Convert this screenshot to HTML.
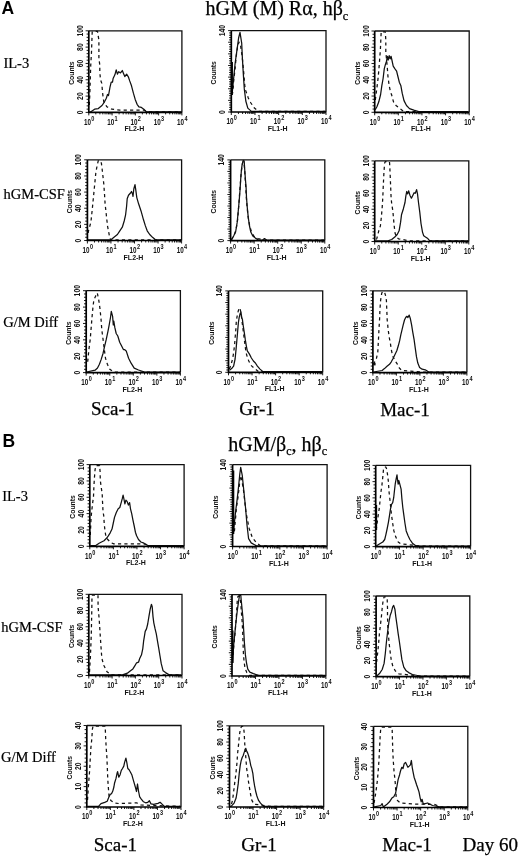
<!DOCTYPE html>
<html><head><meta charset="utf-8"><title>Figure</title><style>
html,body{margin:0;padding:0;background:#fff;}
body{width:520px;height:858px;overflow:hidden;}
svg{display:block;will-change:transform;}
.dash{fill:none;stroke:#111;stroke-width:1.25;stroke-dasharray:3.2 3.2;stroke-linejoin:round;}
.sol{fill:none;stroke:#111;stroke-width:1.25;stroke-linejoin:round;}
.box{fill:none;stroke:#111;stroke-width:1.3;}
.axis{fill:none;stroke:#000;stroke-width:1.7;}
.tick{fill:none;stroke:#000;stroke-width:0.9;}
.yl{font-family:"Liberation Sans", sans-serif;font-size:8.5px;font-weight:bold;text-anchor:middle;fill:#111;}
.cnt{font-family:"Liberation Sans", sans-serif;font-size:6.8px;font-weight:bold;text-anchor:middle;fill:#111;}
.xl{font-family:"Liberation Sans", sans-serif;font-size:8.2px;font-weight:bold;fill:#111;}
.sup{font-family:"Liberation Sans", sans-serif;font-size:6.4px;font-weight:bold;fill:#111;}
.xt{font-family:"Liberation Sans", sans-serif;font-size:7px;font-weight:bold;text-anchor:middle;fill:#111;}
.lab{font-family:"Liberation Sans", sans-serif;font-size:17.5px;font-weight:bold;fill:#000;}
.ttl{font-family:"Liberation Serif", serif;font-size:20px;fill:#000;stroke:#000;stroke-width:0.25px;}
.sub{font-size:12px;}
.row{font-family:"Liberation Serif", serif;font-size:14.5px;fill:#000;stroke:#000;stroke-width:0.2px;}
.col{font-family:"Liberation Serif", serif;font-size:19px;fill:#000;stroke:#000;stroke-width:0.25px;}
</style></head>
<body><svg width="520" height="858" viewBox="0 0 520 858">
<rect width="520" height="858" fill="#fff"/>
<g><path d="M89.3 105 L89.8 95 L90.7 66 L91.5 52 L92.2 32 L92.8 31.4 L97.5 31.4 L97.7 33 L98.9 40 L98.9 58.8 L99.8 65 L99.8 72 L100.5 79.7 L101.8 83.4 L102.6 93.2 L103.8 101.8 L106.9 106.8 L111.8 109.2 L120 110.2 L143.8 110.2 L150 111.8 L181.5 111.8" class="dash"/><path d="M89.5 111.8 L90.9 111.8 L94.6 109.2 L98.3 108.6 L102 105.5 L104.5 101.8 L106.3 98.2 L107.5 94.5 L108.5 95.5 L110 87.1 L111.2 82.2 L112.5 82.2 L113.1 78.5 L114.9 74.8 L116.2 69.8 L117.4 74.2 L118.6 71.7 L120.5 72.9 L122.3 70.5 L123.5 73.5 L124.8 76.6 L126.6 74.2 L128.5 77.2 L129.7 80.9 L131.5 85.8 L133.4 93.2 L135.2 99.4 L137.1 104.3 L138.9 106.8 L141.4 107.4 L143.8 109.2 L146.3 111.8 L150 111.8 L160 111.8 L166 111.8 L181.5 111.8" class="sol"/><path d="M88.8 30.8 H181.9 V112.4" class="box"/><path d="M88.8 30.8 V112.4 H181.9" class="axis"/><path d="M88.8 112.4h-3.2M88.8 109.14h-2.2M88.8 105.87h-2.2M88.8 102.61h-2.2M88.8 99.34h-2.2M88.8 96.08h-3.2M88.8 92.82h-2.2M88.8 89.55h-2.2M88.8 86.29h-2.2M88.8 83.02h-2.2M88.8 79.76h-3.2M88.8 76.5h-2.2M88.8 73.23h-2.2M88.8 69.97h-2.2M88.8 66.7h-2.2M88.8 63.44h-3.2M88.8 60.18h-2.2M88.8 56.91h-2.2M88.8 53.65h-2.2M88.8 50.38h-2.2M88.8 47.12h-3.2M88.8 43.86h-2.2M88.8 40.59h-2.2M88.8 37.33h-2.2M88.8 34.06h-2.2M88.8 30.8h-3.2M88.8 112.4v3M95.81 112.4v2M99.9 112.4v2M102.81 112.4v2M105.07 112.4v2M106.91 112.4v2M108.47 112.4v2M109.82 112.4v2M111.01 112.4v2M112.08 112.4v3M119.08 112.4v2M123.18 112.4v2M126.09 112.4v2M128.34 112.4v2M130.19 112.4v2M131.74 112.4v2M133.09 112.4v2M134.28 112.4v2M135.35 112.4v3M142.36 112.4v2M146.45 112.4v2M149.36 112.4v2M151.62 112.4v2M153.46 112.4v2M155.02 112.4v2M156.37 112.4v2M157.56 112.4v2M158.62 112.4v3M165.63 112.4v2M169.73 112.4v2M172.64 112.4v2M174.89 112.4v2M176.74 112.4v2M178.29 112.4v2M179.64 112.4v2M180.83 112.4v2M181.9 112.4v3" class="tick"/><text transform="translate(82.6 112.4) rotate(-90)" class="yl" textLength="3.8" lengthAdjust="spacingAndGlyphs">0</text><text transform="translate(82.6 96.08) rotate(-90)" class="yl" textLength="7.6" lengthAdjust="spacingAndGlyphs">20</text><text transform="translate(82.6 79.76) rotate(-90)" class="yl" textLength="7.6" lengthAdjust="spacingAndGlyphs">40</text><text transform="translate(82.6 63.44) rotate(-90)" class="yl" textLength="7.6" lengthAdjust="spacingAndGlyphs">60</text><text transform="translate(82.6 47.12) rotate(-90)" class="yl" textLength="7.6" lengthAdjust="spacingAndGlyphs">80</text><text transform="translate(82.6 30.8) rotate(-90)" class="yl" textLength="11.4" lengthAdjust="spacingAndGlyphs">100</text><text transform="translate(73.8 73.1) rotate(-90)" class="cnt">Counts</text><text x="83.9" y="124.8" class="xl" textLength="7" lengthAdjust="spacingAndGlyphs">10</text><text x="91.3" y="120.6" class="sup" textLength="3.1" lengthAdjust="spacingAndGlyphs">0</text><text x="107.17" y="124.8" class="xl" textLength="7" lengthAdjust="spacingAndGlyphs">10</text><text x="114.58" y="120.6" class="sup" textLength="3.1" lengthAdjust="spacingAndGlyphs">1</text><text x="130.45" y="124.8" class="xl" textLength="7" lengthAdjust="spacingAndGlyphs">10</text><text x="137.85" y="120.6" class="sup" textLength="3.1" lengthAdjust="spacingAndGlyphs">2</text><text x="153.72" y="124.8" class="xl" textLength="7" lengthAdjust="spacingAndGlyphs">10</text><text x="161.12" y="120.6" class="sup" textLength="3.1" lengthAdjust="spacingAndGlyphs">3</text><text x="177" y="124.8" class="xl" textLength="7" lengthAdjust="spacingAndGlyphs">10</text><text x="184.4" y="120.6" class="sup" textLength="3.1" lengthAdjust="spacingAndGlyphs">4</text><text x="134.35" y="131.4" class="xt">FL2-H</text></g>
<g><path d="M232.3 95 L233.1 88.9 L233.6 81.8 L235.1 68.6 L236.2 56.4 L237.5 47 L239 42 L240.5 45 L241.7 53.4 L242.7 61.5 L243.8 73.6 L244.8 85.8 L245.8 90.9 L248.3 98 L250.9 103 L254.4 108.1 L258.5 111.4 L280 111.4 L325.5 111.4" class="dash"/><path d="M232 95 L232.6 88.9 L233.6 78.7 L235.1 63.5 L237.2 48.3 L238.6 38 L240 32.3 L241.7 43.2 L242.4 58.4 L243.3 73.6 L244.3 88.9 L245.8 101 L247.8 108.1 L251.4 111.4 L260 111.4 L290 111.4 L325.5 111.4" class="sol"/><line x1="232.2" y1="62" x2="232.2" y2="93" stroke="#000" stroke-width="1.5"/><path d="M231.3 30.6 H326 V112" class="box"/><path d="M231.3 30.6 V112 H326" class="axis"/><path d="M231.3 112h-3.2M231.3 109.67h-2.2M231.3 107.35h-2.2M231.3 105.02h-2.2M231.3 102.7h-2.2M231.3 100.37h-3.2M231.3 98.05h-2.2M231.3 95.72h-2.2M231.3 93.39h-2.2M231.3 91.07h-2.2M231.3 88.74h-3.2M231.3 86.42h-2.2M231.3 84.09h-2.2M231.3 81.77h-2.2M231.3 79.44h-2.2M231.3 77.11h-3.2M231.3 74.79h-2.2M231.3 72.46h-2.2M231.3 70.14h-2.2M231.3 67.81h-2.2M231.3 65.49h-3.2M231.3 63.16h-2.2M231.3 60.83h-2.2M231.3 58.51h-2.2M231.3 56.18h-2.2M231.3 53.86h-3.2M231.3 51.53h-2.2M231.3 49.21h-2.2M231.3 46.88h-2.2M231.3 44.55h-2.2M231.3 42.23h-3.2M231.3 39.9h-2.2M231.3 37.58h-2.2M231.3 35.25h-2.2M231.3 32.93h-2.2M231.3 30.6h-3.2M231.3 112v3M238.43 112v2M242.6 112v2M245.55 112v2M247.85 112v2M249.72 112v2M251.31 112v2M252.68 112v2M253.89 112v2M254.98 112v3M262.1 112v2M266.27 112v2M269.23 112v2M271.52 112v2M273.4 112v2M274.98 112v2M276.36 112v2M277.57 112v2M278.65 112v3M285.78 112v2M289.95 112v2M292.9 112v2M295.2 112v2M297.07 112v2M298.66 112v2M300.03 112v2M301.24 112v2M302.32 112v3M309.45 112v2M313.62 112v2M316.58 112v2M318.87 112v2M320.75 112v2M322.33 112v2M323.71 112v2M324.92 112v2M326 112v3" class="tick"/><text transform="translate(225.1 112) rotate(-90)" class="yl" textLength="3.8" lengthAdjust="spacingAndGlyphs">0</text><text transform="translate(225.1 30.6) rotate(-90)" class="yl" textLength="11.4" lengthAdjust="spacingAndGlyphs">140</text><text transform="translate(216.3 72.8) rotate(-90)" class="cnt">Counts</text><text x="226.4" y="124.4" class="xl" textLength="7" lengthAdjust="spacingAndGlyphs">10</text><text x="233.8" y="120.2" class="sup" textLength="3.1" lengthAdjust="spacingAndGlyphs">0</text><text x="250.08" y="124.4" class="xl" textLength="7" lengthAdjust="spacingAndGlyphs">10</text><text x="257.48" y="120.2" class="sup" textLength="3.1" lengthAdjust="spacingAndGlyphs">1</text><text x="273.75" y="124.4" class="xl" textLength="7" lengthAdjust="spacingAndGlyphs">10</text><text x="281.15" y="120.2" class="sup" textLength="3.1" lengthAdjust="spacingAndGlyphs">2</text><text x="297.43" y="124.4" class="xl" textLength="7" lengthAdjust="spacingAndGlyphs">10</text><text x="304.82" y="120.2" class="sup" textLength="3.1" lengthAdjust="spacingAndGlyphs">3</text><text x="321.1" y="124.4" class="xl" textLength="7" lengthAdjust="spacingAndGlyphs">10</text><text x="328.5" y="120.2" class="sup" textLength="3.1" lengthAdjust="spacingAndGlyphs">4</text><text x="277.65" y="131" class="xt">FL1-H</text></g>
<g><path d="M375.3 100 L376.9 88 L377.9 79.7 L378.8 70.5 L379.6 60 L380.4 49.5 L380.9 38 L381.2 31.8 L385.3 31.8 L385.8 40 L385.8 52 L386.5 58.8 L387.4 69 L388 77 L389.2 85.8 L390.5 92 L391.7 95.1 L393.5 101.8 L396 105.5 L399.1 108 L404 111.7 L420 111.7 L468.5 111.7" class="dash"/><path d="M375.2 109.8 L376.9 106.8 L378.8 101.8 L380.6 94.5 L381.8 85.8 L383.1 78.5 L384.3 68.6 L385.3 64.9 L386.5 61.2 L387.4 56.3 L388.2 60 L389.2 55.7 L390.2 58.8 L391.1 56.3 L391.9 60 L393.2 66.2 L394.8 68.6 L396.6 71.1 L397.8 76 L399.3 82.2 L400.9 85.8 L402.2 93.2 L404 100.6 L406.5 105.5 L409.5 108.6 L413.8 110.2 L418.8 111.7 L424.9 111.7 L468.5 111.7" class="sol"/><path d="M374.7 31 H469.2 V112.3" class="box"/><path d="M374.7 31 V112.3 H469.2" class="axis"/><path d="M374.7 112.3h-3.2M374.7 109.05h-2.2M374.7 105.8h-2.2M374.7 102.54h-2.2M374.7 99.29h-2.2M374.7 96.04h-3.2M374.7 92.79h-2.2M374.7 89.54h-2.2M374.7 86.28h-2.2M374.7 83.03h-2.2M374.7 79.78h-3.2M374.7 76.53h-2.2M374.7 73.28h-2.2M374.7 70.02h-2.2M374.7 66.77h-2.2M374.7 63.52h-3.2M374.7 60.27h-2.2M374.7 57.02h-2.2M374.7 53.76h-2.2M374.7 50.51h-2.2M374.7 47.26h-3.2M374.7 44.01h-2.2M374.7 40.76h-2.2M374.7 37.5h-2.2M374.7 34.25h-2.2M374.7 31h-3.2M374.7 112.3v3M381.81 112.3v2M385.97 112.3v2M388.92 112.3v2M391.21 112.3v2M393.08 112.3v2M394.67 112.3v2M396.04 112.3v2M397.24 112.3v2M398.32 112.3v3M405.44 112.3v2M409.6 112.3v2M412.55 112.3v2M414.84 112.3v2M416.71 112.3v2M418.29 112.3v2M419.66 112.3v2M420.87 112.3v2M421.95 112.3v3M429.06 112.3v2M433.22 112.3v2M436.17 112.3v2M438.46 112.3v2M440.33 112.3v2M441.92 112.3v2M443.29 112.3v2M444.49 112.3v2M445.57 112.3v3M452.69 112.3v2M456.85 112.3v2M459.8 112.3v2M462.09 112.3v2M463.96 112.3v2M465.54 112.3v2M466.91 112.3v2M468.12 112.3v2M469.2 112.3v3" class="tick"/><text transform="translate(368.5 112.3) rotate(-90)" class="yl" textLength="3.8" lengthAdjust="spacingAndGlyphs">0</text><text transform="translate(368.5 96.04) rotate(-90)" class="yl" textLength="7.6" lengthAdjust="spacingAndGlyphs">20</text><text transform="translate(368.5 79.78) rotate(-90)" class="yl" textLength="7.6" lengthAdjust="spacingAndGlyphs">40</text><text transform="translate(368.5 63.52) rotate(-90)" class="yl" textLength="7.6" lengthAdjust="spacingAndGlyphs">60</text><text transform="translate(368.5 47.26) rotate(-90)" class="yl" textLength="7.6" lengthAdjust="spacingAndGlyphs">80</text><text transform="translate(368.5 31) rotate(-90)" class="yl" textLength="11.4" lengthAdjust="spacingAndGlyphs">100</text><text transform="translate(359.7 73.15) rotate(-90)" class="cnt">Counts</text><text x="369.8" y="124.7" class="xl" textLength="7" lengthAdjust="spacingAndGlyphs">10</text><text x="377.2" y="120.5" class="sup" textLength="3.1" lengthAdjust="spacingAndGlyphs">0</text><text x="393.43" y="124.7" class="xl" textLength="7" lengthAdjust="spacingAndGlyphs">10</text><text x="400.82" y="120.5" class="sup" textLength="3.1" lengthAdjust="spacingAndGlyphs">1</text><text x="417.05" y="124.7" class="xl" textLength="7" lengthAdjust="spacingAndGlyphs">10</text><text x="424.45" y="120.5" class="sup" textLength="3.1" lengthAdjust="spacingAndGlyphs">2</text><text x="440.68" y="124.7" class="xl" textLength="7" lengthAdjust="spacingAndGlyphs">10</text><text x="448.07" y="120.5" class="sup" textLength="3.1" lengthAdjust="spacingAndGlyphs">3</text><text x="464.3" y="124.7" class="xl" textLength="7" lengthAdjust="spacingAndGlyphs">10</text><text x="471.7" y="120.5" class="sup" textLength="3.1" lengthAdjust="spacingAndGlyphs">4</text><text x="420.95" y="131.3" class="xt">FL1-H</text></g>
<g><path d="M88.2 233 L88.5 230.8 L90.9 222.2 L92.2 209.9 L93.4 197.6 L94.6 185.3 L95.8 173 L97.1 165.6 L98.3 160.7 L99.5 160.4 L101.4 163.2 L102.6 173 L103.8 184.1 L104.5 193.9 L105.1 203.8 L106.3 214.8 L107.5 225.9 L109.4 235.8 L110.6 239.9 L125 239.9 L181 239.9" class="dash"/><path d="M88 239.9 L100 239.9 L110.6 239.9 L114.3 237 L117.4 234.5 L119.8 230.8 L122.3 227.2 L124.2 221 L125.6 214.8 L126.6 206.2 L127.2 198.8 L128.5 195.2 L130.3 193.3 L131.5 191.5 L132.5 193.9 L133 196.4 L133.8 189 L135 184.7 L135.8 190.2 L136.8 197.6 L138.6 203.8 L141.1 211.2 L143.5 219.8 L145.4 225.9 L147.2 230.8 L149.7 234.5 L152.8 237.6 L155.8 239.9 L165 239.9 L181 239.9" class="sol"/><path d="M87.4 159.8 H181.6 V240.5" class="box"/><path d="M87.4 159.8 V240.5 H181.6" class="axis"/><path d="M87.4 240.5h-3.2M87.4 237.27h-2.2M87.4 234.04h-2.2M87.4 230.82h-2.2M87.4 227.59h-2.2M87.4 224.36h-3.2M87.4 221.13h-2.2M87.4 217.9h-2.2M87.4 214.68h-2.2M87.4 211.45h-2.2M87.4 208.22h-3.2M87.4 204.99h-2.2M87.4 201.76h-2.2M87.4 198.54h-2.2M87.4 195.31h-2.2M87.4 192.08h-3.2M87.4 188.85h-2.2M87.4 185.62h-2.2M87.4 182.4h-2.2M87.4 179.17h-2.2M87.4 175.94h-3.2M87.4 172.71h-2.2M87.4 169.48h-2.2M87.4 166.26h-2.2M87.4 163.03h-2.2M87.4 159.8h-3.2M87.4 240.5v3M94.49 240.5v2M98.64 240.5v2M101.58 240.5v2M103.86 240.5v2M105.73 240.5v2M107.3 240.5v2M108.67 240.5v2M109.87 240.5v2M110.95 240.5v3M118.04 240.5v2M122.19 240.5v2M125.13 240.5v2M127.41 240.5v2M129.28 240.5v2M130.85 240.5v2M132.22 240.5v2M133.42 240.5v2M134.5 240.5v3M141.59 240.5v2M145.74 240.5v2M148.68 240.5v2M150.96 240.5v2M152.83 240.5v2M154.4 240.5v2M155.77 240.5v2M156.97 240.5v2M158.05 240.5v3M165.14 240.5v2M169.29 240.5v2M172.23 240.5v2M174.51 240.5v2M176.38 240.5v2M177.95 240.5v2M179.32 240.5v2M180.52 240.5v2M181.6 240.5v3" class="tick"/><text transform="translate(81.2 240.5) rotate(-90)" class="yl" textLength="3.8" lengthAdjust="spacingAndGlyphs">0</text><text transform="translate(81.2 224.36) rotate(-90)" class="yl" textLength="7.6" lengthAdjust="spacingAndGlyphs">20</text><text transform="translate(81.2 208.22) rotate(-90)" class="yl" textLength="7.6" lengthAdjust="spacingAndGlyphs">40</text><text transform="translate(81.2 192.08) rotate(-90)" class="yl" textLength="7.6" lengthAdjust="spacingAndGlyphs">60</text><text transform="translate(81.2 175.94) rotate(-90)" class="yl" textLength="7.6" lengthAdjust="spacingAndGlyphs">80</text><text transform="translate(81.2 159.8) rotate(-90)" class="yl" textLength="11.4" lengthAdjust="spacingAndGlyphs">100</text><text transform="translate(72.4 201.65) rotate(-90)" class="cnt">Counts</text><text x="82.5" y="252.9" class="xl" textLength="7" lengthAdjust="spacingAndGlyphs">10</text><text x="89.9" y="248.7" class="sup" textLength="3.1" lengthAdjust="spacingAndGlyphs">0</text><text x="106.05" y="252.9" class="xl" textLength="7" lengthAdjust="spacingAndGlyphs">10</text><text x="113.45" y="248.7" class="sup" textLength="3.1" lengthAdjust="spacingAndGlyphs">1</text><text x="129.6" y="252.9" class="xl" textLength="7" lengthAdjust="spacingAndGlyphs">10</text><text x="137" y="248.7" class="sup" textLength="3.1" lengthAdjust="spacingAndGlyphs">2</text><text x="153.15" y="252.9" class="xl" textLength="7" lengthAdjust="spacingAndGlyphs">10</text><text x="160.55" y="248.7" class="sup" textLength="3.1" lengthAdjust="spacingAndGlyphs">3</text><text x="176.7" y="252.9" class="xl" textLength="7" lengthAdjust="spacingAndGlyphs">10</text><text x="184.1" y="248.7" class="sup" textLength="3.1" lengthAdjust="spacingAndGlyphs">4</text><text x="133.5" y="259.5" class="xt">FL2-H</text></g>
<g><path d="M231.5 240 L234 235.5 L236 230 L237.6 220 L238.8 205 L240 188 L241 175 L242 166 L242.8 162 L243.8 162 L244.5 168 L245.3 180 L246 192 L246.8 204 L248 216 L249.5 225 L251.5 232 L254 236.3 L258 238.6 L265 240 L280 240 L324.3 240" class="dash"/><path d="M231 240 L233.6 236.1 L235.6 232 L237.1 222.9 L238.1 212.8 L239.2 200.6 L240 190.5 L240.7 179.3 L241.4 170.2 L242.2 164.1 L243.2 160.4 L244.2 161.1 L244.7 169.2 L245.4 179.3 L246.1 187.4 L246.5 197.6 L247.3 207.7 L248.3 217.9 L249.5 226 L250.8 232 L252.8 236.1 L255.4 238.1 L258.4 240 L262.5 240 L264.5 238.6 L266.5 240 L324.3 240" class="sol"/><path d="M230.6 159.9 H324.8 V240.6" class="box"/><path d="M230.6 159.9 V240.6 H324.8" class="axis"/><path d="M230.6 240.6h-3.2M230.6 238.29h-2.2M230.6 235.99h-2.2M230.6 233.68h-2.2M230.6 231.38h-2.2M230.6 229.07h-3.2M230.6 226.77h-2.2M230.6 224.46h-2.2M230.6 222.15h-2.2M230.6 219.85h-2.2M230.6 217.54h-3.2M230.6 215.24h-2.2M230.6 212.93h-2.2M230.6 210.63h-2.2M230.6 208.32h-2.2M230.6 206.01h-3.2M230.6 203.71h-2.2M230.6 201.4h-2.2M230.6 199.1h-2.2M230.6 196.79h-2.2M230.6 194.49h-3.2M230.6 192.18h-2.2M230.6 189.87h-2.2M230.6 187.57h-2.2M230.6 185.26h-2.2M230.6 182.96h-3.2M230.6 180.65h-2.2M230.6 178.35h-2.2M230.6 176.04h-2.2M230.6 173.73h-2.2M230.6 171.43h-3.2M230.6 169.12h-2.2M230.6 166.82h-2.2M230.6 164.51h-2.2M230.6 162.21h-2.2M230.6 159.9h-3.2M230.6 240.6v3M237.69 240.6v2M241.84 240.6v2M244.78 240.6v2M247.06 240.6v2M248.93 240.6v2M250.5 240.6v2M251.87 240.6v2M253.07 240.6v2M254.15 240.6v3M261.24 240.6v2M265.39 240.6v2M268.33 240.6v2M270.61 240.6v2M272.48 240.6v2M274.05 240.6v2M275.42 240.6v2M276.62 240.6v2M277.7 240.6v3M284.79 240.6v2M288.94 240.6v2M291.88 240.6v2M294.16 240.6v2M296.03 240.6v2M297.6 240.6v2M298.97 240.6v2M300.17 240.6v2M301.25 240.6v3M308.34 240.6v2M312.49 240.6v2M315.43 240.6v2M317.71 240.6v2M319.58 240.6v2M321.15 240.6v2M322.52 240.6v2M323.72 240.6v2M324.8 240.6v3" class="tick"/><text transform="translate(224.4 240.6) rotate(-90)" class="yl" textLength="3.8" lengthAdjust="spacingAndGlyphs">0</text><text transform="translate(224.4 159.9) rotate(-90)" class="yl" textLength="11.4" lengthAdjust="spacingAndGlyphs">140</text><text transform="translate(215.6 201.75) rotate(-90)" class="cnt">Counts</text><text x="225.7" y="253" class="xl" textLength="7" lengthAdjust="spacingAndGlyphs">10</text><text x="233.1" y="248.8" class="sup" textLength="3.1" lengthAdjust="spacingAndGlyphs">0</text><text x="249.25" y="253" class="xl" textLength="7" lengthAdjust="spacingAndGlyphs">10</text><text x="256.65" y="248.8" class="sup" textLength="3.1" lengthAdjust="spacingAndGlyphs">1</text><text x="272.8" y="253" class="xl" textLength="7" lengthAdjust="spacingAndGlyphs">10</text><text x="280.2" y="248.8" class="sup" textLength="3.1" lengthAdjust="spacingAndGlyphs">2</text><text x="296.35" y="253" class="xl" textLength="7" lengthAdjust="spacingAndGlyphs">10</text><text x="303.75" y="248.8" class="sup" textLength="3.1" lengthAdjust="spacingAndGlyphs">3</text><text x="319.9" y="253" class="xl" textLength="7" lengthAdjust="spacingAndGlyphs">10</text><text x="327.3" y="248.8" class="sup" textLength="3.1" lengthAdjust="spacingAndGlyphs">4</text><text x="276.7" y="259.6" class="xt">FL1-H</text></g>
<g><path d="M376.3 239.5 L376.9 238.2 L378.8 230.8 L380.4 225.9 L381.2 218.5 L382.1 208.7 L382.8 197.6 L383.3 185.3 L383.9 173 L384.6 163.2 L385.2 161.7 L389.4 161.7 L389.6 163.2 L390.2 175.5 L390.7 187.8 L391.1 197.6 L391.7 203.8 L392.9 211.2 L393.5 218.5 L394.2 225.9 L395.1 233.3 L396.6 237 L398.5 238.8 L410 240.9 L468.3 240.9" class="dash"/><path d="M375.2 240.9 L388 240.9 L391.7 239.5 L394.8 237 L397.2 234.5 L399.1 230.8 L400.6 222.2 L401.5 214.8 L403.4 208.7 L405 202.5 L405.8 196.4 L406.7 191.5 L407.7 193.9 L408.7 190.8 L409.9 195.2 L411.4 198.2 L412.9 195.2 L414.1 192.7 L415.3 193.3 L416.6 189.6 L417.5 193.9 L418.5 202.5 L419.8 212.4 L421 223.5 L422.5 232.1 L423.7 235.8 L425.5 237 L427.4 238.2 L429.8 240.9 L432.3 240.9 L468.3 240.9" class="sol"/><path d="M374.7 160.9 H468.8 V241.5" class="box"/><path d="M374.7 160.9 V241.5 H468.8" class="axis"/><path d="M374.7 241.5h-3.2M374.7 238.28h-2.2M374.7 235.05h-2.2M374.7 231.83h-2.2M374.7 228.6h-2.2M374.7 225.38h-3.2M374.7 222.16h-2.2M374.7 218.93h-2.2M374.7 215.71h-2.2M374.7 212.48h-2.2M374.7 209.26h-3.2M374.7 206.04h-2.2M374.7 202.81h-2.2M374.7 199.59h-2.2M374.7 196.36h-2.2M374.7 193.14h-3.2M374.7 189.92h-2.2M374.7 186.69h-2.2M374.7 183.47h-2.2M374.7 180.24h-2.2M374.7 177.02h-3.2M374.7 173.8h-2.2M374.7 170.57h-2.2M374.7 167.35h-2.2M374.7 164.12h-2.2M374.7 160.9h-3.2M374.7 241.5v3M381.78 241.5v2M385.92 241.5v2M388.86 241.5v2M391.14 241.5v2M393.01 241.5v2M394.58 241.5v2M395.95 241.5v2M397.15 241.5v2M398.23 241.5v3M405.31 241.5v2M409.45 241.5v2M412.39 241.5v2M414.67 241.5v2M416.53 241.5v2M418.11 241.5v2M419.47 241.5v2M420.67 241.5v2M421.75 241.5v3M428.83 241.5v2M432.97 241.5v2M435.91 241.5v2M438.19 241.5v2M440.06 241.5v2M441.63 241.5v2M443 241.5v2M444.2 241.5v2M445.27 241.5v3M452.36 241.5v2M456.5 241.5v2M459.44 241.5v2M461.72 241.5v2M463.58 241.5v2M465.16 241.5v2M466.52 241.5v2M467.72 241.5v2M468.8 241.5v3" class="tick"/><text transform="translate(368.5 241.5) rotate(-90)" class="yl" textLength="3.8" lengthAdjust="spacingAndGlyphs">0</text><text transform="translate(368.5 225.38) rotate(-90)" class="yl" textLength="7.6" lengthAdjust="spacingAndGlyphs">20</text><text transform="translate(368.5 209.26) rotate(-90)" class="yl" textLength="7.6" lengthAdjust="spacingAndGlyphs">40</text><text transform="translate(368.5 193.14) rotate(-90)" class="yl" textLength="7.6" lengthAdjust="spacingAndGlyphs">60</text><text transform="translate(368.5 177.02) rotate(-90)" class="yl" textLength="7.6" lengthAdjust="spacingAndGlyphs">80</text><text transform="translate(368.5 160.9) rotate(-90)" class="yl" textLength="11.4" lengthAdjust="spacingAndGlyphs">100</text><text transform="translate(359.7 202.7) rotate(-90)" class="cnt">Counts</text><text x="369.8" y="253.9" class="xl" textLength="7" lengthAdjust="spacingAndGlyphs">10</text><text x="377.2" y="249.7" class="sup" textLength="3.1" lengthAdjust="spacingAndGlyphs">0</text><text x="393.33" y="253.9" class="xl" textLength="7" lengthAdjust="spacingAndGlyphs">10</text><text x="400.73" y="249.7" class="sup" textLength="3.1" lengthAdjust="spacingAndGlyphs">1</text><text x="416.85" y="253.9" class="xl" textLength="7" lengthAdjust="spacingAndGlyphs">10</text><text x="424.25" y="249.7" class="sup" textLength="3.1" lengthAdjust="spacingAndGlyphs">2</text><text x="440.38" y="253.9" class="xl" textLength="7" lengthAdjust="spacingAndGlyphs">10</text><text x="447.77" y="249.7" class="sup" textLength="3.1" lengthAdjust="spacingAndGlyphs">3</text><text x="463.9" y="253.9" class="xl" textLength="7" lengthAdjust="spacingAndGlyphs">10</text><text x="471.3" y="249.7" class="sup" textLength="3.1" lengthAdjust="spacingAndGlyphs">4</text><text x="420.75" y="260.5" class="xt">FL1-H</text></g>
<g><path d="M87.7 361.8 L88.9 349.5 L90.2 339.7 L91.1 328.6 L92 317.5 L92.9 307.7 L93.8 300.3 L95.1 297.2 L96.3 294.8 L97.3 292.9 L98.8 300.3 L100 308.9 L101 318.8 L101.8 329.8 L103.1 339.7 L104.3 349.5 L105.5 358.2 L107.4 364.3 L109.8 369.2 L113.5 372 L130 372 L179.9 372" class="dash"/><path d="M86.7 372 L95.1 370.2 L97.5 368 L99.4 364.3 L101.2 359.4 L103.1 353.2 L104.7 345.8 L106.2 339.7 L108 331.1 L109.2 324.9 L110.5 317.5 L111.3 311.4 L112.6 316.3 L113.3 324.9 L113.8 321.2 L114.8 327.4 L116.2 333.5 L117.8 336 L119.7 342.2 L121.5 345.8 L123.4 349.5 L124.5 349.5 L126.2 350.9 L128.6 358.3 L131.1 363.2 L134.2 368.2 L138.5 370 L144.6 372 L155 372 L179.9 372" class="sol"/><path d="M86.2 290.7 H180.4 V372.6" class="box"/><path d="M86.2 290.7 V372.6 H180.4" class="axis"/><path d="M86.2 372.6h-3.2M86.2 369.32h-2.2M86.2 366.05h-2.2M86.2 362.77h-2.2M86.2 359.5h-2.2M86.2 356.22h-3.2M86.2 352.94h-2.2M86.2 349.67h-2.2M86.2 346.39h-2.2M86.2 343.12h-2.2M86.2 339.84h-3.2M86.2 336.56h-2.2M86.2 333.29h-2.2M86.2 330.01h-2.2M86.2 326.74h-2.2M86.2 323.46h-3.2M86.2 320.18h-2.2M86.2 316.91h-2.2M86.2 313.63h-2.2M86.2 310.36h-2.2M86.2 307.08h-3.2M86.2 303.8h-2.2M86.2 300.53h-2.2M86.2 297.25h-2.2M86.2 293.98h-2.2M86.2 290.7h-3.2M86.2 372.6v3M93.29 372.6v2M97.44 372.6v2M100.38 372.6v2M102.66 372.6v2M104.53 372.6v2M106.1 372.6v2M107.47 372.6v2M108.67 372.6v2M109.75 372.6v3M116.84 372.6v2M120.99 372.6v2M123.93 372.6v2M126.21 372.6v2M128.08 372.6v2M129.65 372.6v2M131.02 372.6v2M132.22 372.6v2M133.3 372.6v3M140.39 372.6v2M144.54 372.6v2M147.48 372.6v2M149.76 372.6v2M151.63 372.6v2M153.2 372.6v2M154.57 372.6v2M155.77 372.6v2M156.85 372.6v3M163.94 372.6v2M168.09 372.6v2M171.03 372.6v2M173.31 372.6v2M175.18 372.6v2M176.75 372.6v2M178.12 372.6v2M179.32 372.6v2M180.4 372.6v3" class="tick"/><text transform="translate(80 372.6) rotate(-90)" class="yl" textLength="3.8" lengthAdjust="spacingAndGlyphs">0</text><text transform="translate(80 356.22) rotate(-90)" class="yl" textLength="7.6" lengthAdjust="spacingAndGlyphs">20</text><text transform="translate(80 339.84) rotate(-90)" class="yl" textLength="7.6" lengthAdjust="spacingAndGlyphs">40</text><text transform="translate(80 323.46) rotate(-90)" class="yl" textLength="7.6" lengthAdjust="spacingAndGlyphs">60</text><text transform="translate(80 307.08) rotate(-90)" class="yl" textLength="7.6" lengthAdjust="spacingAndGlyphs">80</text><text transform="translate(80 290.7) rotate(-90)" class="yl" textLength="11.4" lengthAdjust="spacingAndGlyphs">100</text><text transform="translate(71.2 333.15) rotate(-90)" class="cnt">Counts</text><text x="81.3" y="385" class="xl" textLength="7" lengthAdjust="spacingAndGlyphs">10</text><text x="88.7" y="380.8" class="sup" textLength="3.1" lengthAdjust="spacingAndGlyphs">0</text><text x="104.85" y="385" class="xl" textLength="7" lengthAdjust="spacingAndGlyphs">10</text><text x="112.25" y="380.8" class="sup" textLength="3.1" lengthAdjust="spacingAndGlyphs">1</text><text x="128.4" y="385" class="xl" textLength="7" lengthAdjust="spacingAndGlyphs">10</text><text x="135.8" y="380.8" class="sup" textLength="3.1" lengthAdjust="spacingAndGlyphs">2</text><text x="151.95" y="385" class="xl" textLength="7" lengthAdjust="spacingAndGlyphs">10</text><text x="159.35" y="380.8" class="sup" textLength="3.1" lengthAdjust="spacingAndGlyphs">3</text><text x="175.5" y="385" class="xl" textLength="7" lengthAdjust="spacingAndGlyphs">10</text><text x="182.9" y="380.8" class="sup" textLength="3.1" lengthAdjust="spacingAndGlyphs">4</text><text x="132.3" y="391.6" class="xt">FL2-H</text></g>
<g><path d="M229.2 369 L230.6 366.1 L232.6 359 L233.6 352.9 L234.6 344.8 L235.3 335.7 L235.9 328.6 L236.3 321.5 L237.4 314.4 L238.7 309.3 L239.7 307.8 L240.7 311.3 L241.7 318.4 L242.4 324.5 L243.2 330.6 L244.1 337.7 L245.1 345.8 L246.1 352.9 L247.3 357 L248.8 361 L250.8 365.1 L252.9 367.1 L255.4 369.1 L258.5 371.7 L270 371.7 L322.2 371.7" class="dash"/><path d="M229.5 370.2 L231.6 368.6 L233.6 366.1 L235.1 359 L236.1 348.9 L237 338.7 L237.7 330.6 L238.4 322.5 L239.2 317.4 L240.2 313.4 L241 312.3 L241.7 317.4 L242.4 319.4 L243.2 325.5 L244.3 332.6 L245.3 339.7 L246.3 345.8 L247.3 350.9 L249.3 353.9 L251.4 358 L253.4 361 L255.4 363 L257.4 366.1 L260 369.1 L263 371.7 L266.6 371.7 L322.2 371.7" class="sol"/><path d="M228.5 290.9 H322.7 V372.3" class="box"/><path d="M228.5 290.9 V372.3 H322.7" class="axis"/><path d="M228.5 372.3h-3.2M228.5 369.97h-2.2M228.5 367.65h-2.2M228.5 365.32h-2.2M228.5 363h-2.2M228.5 360.67h-3.2M228.5 358.35h-2.2M228.5 356.02h-2.2M228.5 353.69h-2.2M228.5 351.37h-2.2M228.5 349.04h-3.2M228.5 346.72h-2.2M228.5 344.39h-2.2M228.5 342.07h-2.2M228.5 339.74h-2.2M228.5 337.41h-3.2M228.5 335.09h-2.2M228.5 332.76h-2.2M228.5 330.44h-2.2M228.5 328.11h-2.2M228.5 325.79h-3.2M228.5 323.46h-2.2M228.5 321.13h-2.2M228.5 318.81h-2.2M228.5 316.48h-2.2M228.5 314.16h-3.2M228.5 311.83h-2.2M228.5 309.51h-2.2M228.5 307.18h-2.2M228.5 304.85h-2.2M228.5 302.53h-3.2M228.5 300.2h-2.2M228.5 297.88h-2.2M228.5 295.55h-2.2M228.5 293.23h-2.2M228.5 290.9h-3.2M228.5 372.3v3M235.59 372.3v2M239.74 372.3v2M242.68 372.3v2M244.96 372.3v2M246.83 372.3v2M248.4 372.3v2M249.77 372.3v2M250.97 372.3v2M252.05 372.3v3M259.14 372.3v2M263.29 372.3v2M266.23 372.3v2M268.51 372.3v2M270.38 372.3v2M271.95 372.3v2M273.32 372.3v2M274.52 372.3v2M275.6 372.3v3M282.69 372.3v2M286.84 372.3v2M289.78 372.3v2M292.06 372.3v2M293.93 372.3v2M295.5 372.3v2M296.87 372.3v2M298.07 372.3v2M299.15 372.3v3M306.24 372.3v2M310.39 372.3v2M313.33 372.3v2M315.61 372.3v2M317.48 372.3v2M319.05 372.3v2M320.42 372.3v2M321.62 372.3v2M322.7 372.3v3" class="tick"/><text transform="translate(222.3 372.3) rotate(-90)" class="yl" textLength="3.8" lengthAdjust="spacingAndGlyphs">0</text><text transform="translate(222.3 290.9) rotate(-90)" class="yl" textLength="11.4" lengthAdjust="spacingAndGlyphs">140</text><text transform="translate(213.5 333.1) rotate(-90)" class="cnt">Counts</text><text x="223.6" y="384.7" class="xl" textLength="7" lengthAdjust="spacingAndGlyphs">10</text><text x="231" y="380.5" class="sup" textLength="3.1" lengthAdjust="spacingAndGlyphs">0</text><text x="247.15" y="384.7" class="xl" textLength="7" lengthAdjust="spacingAndGlyphs">10</text><text x="254.55" y="380.5" class="sup" textLength="3.1" lengthAdjust="spacingAndGlyphs">1</text><text x="270.7" y="384.7" class="xl" textLength="7" lengthAdjust="spacingAndGlyphs">10</text><text x="278.1" y="380.5" class="sup" textLength="3.1" lengthAdjust="spacingAndGlyphs">2</text><text x="294.25" y="384.7" class="xl" textLength="7" lengthAdjust="spacingAndGlyphs">10</text><text x="301.65" y="380.5" class="sup" textLength="3.1" lengthAdjust="spacingAndGlyphs">3</text><text x="317.8" y="384.7" class="xl" textLength="7" lengthAdjust="spacingAndGlyphs">10</text><text x="325.2" y="380.5" class="sup" textLength="3.1" lengthAdjust="spacingAndGlyphs">4</text><text x="274.6" y="391.3" class="xt">FL1-H</text></g>
<g><path d="M373.6 364.5 L374.7 361.8 L376.5 358.2 L377.8 352 L378.4 340.9 L379 328.6 L379.6 318.8 L379.9 310.2 L380.6 300.3 L381.8 292.9 L383 291.6 L384.5 292 L385.5 295.4 L386.4 300.3 L386.8 310.2 L387.2 320 L388.2 329.8 L389.2 337.2 L390.4 343.4 L391.3 349.5 L392.5 355.7 L395 360.6 L397.5 364.3 L399.3 368 L401.8 370.5 L420 372 L466.4 372" class="dash"/><path d="M373.5 372 L382.1 370.5 L384.5 368.6 L387 366.2 L389.5 364.3 L391.3 361.8 L393.2 358.2 L395 354.5 L396.8 350.8 L398.3 345.8 L399.6 340.9 L400.8 334.8 L402 329.8 L403.2 324.9 L404.5 320 L405.7 317.5 L406.9 316.3 L407.9 317.5 L409.2 315.1 L410.4 318.8 L411.6 324.9 L412.8 332.3 L414.1 339.7 L415.3 348.3 L416.5 356.9 L417.8 363.1 L419.6 367.4 L422.1 369.2 L425.2 369.8 L428.8 372 L466.4 372" class="sol"/><rect x="373.4" y="362.8" width="2.2" height="2.6" fill="#111"/><path d="M372.9 290.8 H466.9 V372.6" class="box"/><path d="M372.9 290.8 V372.6 H466.9" class="axis"/><path d="M372.9 372.6h-3.2M372.9 369.33h-2.2M372.9 366.06h-2.2M372.9 362.78h-2.2M372.9 359.51h-2.2M372.9 356.24h-3.2M372.9 352.97h-2.2M372.9 349.7h-2.2M372.9 346.42h-2.2M372.9 343.15h-2.2M372.9 339.88h-3.2M372.9 336.61h-2.2M372.9 333.34h-2.2M372.9 330.06h-2.2M372.9 326.79h-2.2M372.9 323.52h-3.2M372.9 320.25h-2.2M372.9 316.98h-2.2M372.9 313.7h-2.2M372.9 310.43h-2.2M372.9 307.16h-3.2M372.9 303.89h-2.2M372.9 300.62h-2.2M372.9 297.34h-2.2M372.9 294.07h-2.2M372.9 290.8h-3.2M372.9 372.6v3M379.97 372.6v2M384.11 372.6v2M387.05 372.6v2M389.33 372.6v2M391.19 372.6v2M392.76 372.6v2M394.12 372.6v2M395.32 372.6v2M396.4 372.6v3M403.47 372.6v2M407.61 372.6v2M410.55 372.6v2M412.83 372.6v2M414.69 372.6v2M416.26 372.6v2M417.62 372.6v2M418.82 372.6v2M419.9 372.6v3M426.97 372.6v2M431.11 372.6v2M434.05 372.6v2M436.33 372.6v2M438.19 372.6v2M439.76 372.6v2M441.12 372.6v2M442.32 372.6v2M443.4 372.6v3M450.47 372.6v2M454.61 372.6v2M457.55 372.6v2M459.83 372.6v2M461.69 372.6v2M463.26 372.6v2M464.62 372.6v2M465.82 372.6v2M466.9 372.6v3" class="tick"/><text transform="translate(366.7 372.6) rotate(-90)" class="yl" textLength="3.8" lengthAdjust="spacingAndGlyphs">0</text><text transform="translate(366.7 356.24) rotate(-90)" class="yl" textLength="7.6" lengthAdjust="spacingAndGlyphs">20</text><text transform="translate(366.7 339.88) rotate(-90)" class="yl" textLength="7.6" lengthAdjust="spacingAndGlyphs">40</text><text transform="translate(366.7 323.52) rotate(-90)" class="yl" textLength="7.6" lengthAdjust="spacingAndGlyphs">60</text><text transform="translate(366.7 307.16) rotate(-90)" class="yl" textLength="7.6" lengthAdjust="spacingAndGlyphs">80</text><text transform="translate(366.7 290.8) rotate(-90)" class="yl" textLength="11.4" lengthAdjust="spacingAndGlyphs">100</text><text transform="translate(357.9 333.2) rotate(-90)" class="cnt">Counts</text><text x="368" y="385" class="xl" textLength="7" lengthAdjust="spacingAndGlyphs">10</text><text x="375.4" y="380.8" class="sup" textLength="3.1" lengthAdjust="spacingAndGlyphs">0</text><text x="391.5" y="385" class="xl" textLength="7" lengthAdjust="spacingAndGlyphs">10</text><text x="398.9" y="380.8" class="sup" textLength="3.1" lengthAdjust="spacingAndGlyphs">1</text><text x="415" y="385" class="xl" textLength="7" lengthAdjust="spacingAndGlyphs">10</text><text x="422.4" y="380.8" class="sup" textLength="3.1" lengthAdjust="spacingAndGlyphs">2</text><text x="438.5" y="385" class="xl" textLength="7" lengthAdjust="spacingAndGlyphs">10</text><text x="445.9" y="380.8" class="sup" textLength="3.1" lengthAdjust="spacingAndGlyphs">3</text><text x="462" y="385" class="xl" textLength="7" lengthAdjust="spacingAndGlyphs">10</text><text x="469.4" y="380.8" class="sup" textLength="3.1" lengthAdjust="spacingAndGlyphs">4</text><text x="418.9" y="391.6" class="xt">FL1-H</text></g>
<g><path d="M90.3 535 L91.1 517.4 L91.7 511.2 L92.7 502.6 L93.5 496.5 L93.9 486.6 L94.4 478 L95.1 469.4 L96 465.5 L99.6 465.5 L100.1 471.8 L100.3 480.5 L101.3 487.8 L102.2 494 L102.5 501.4 L103 511.2 L103.8 516.2 L104.2 523.5 L105 530.9 L105.8 535.8 L107.7 539.5 L110.8 542.6 L113.8 543.8 L144.6 544 L150 545.7 L183.6 545.7" class="dash"/><path d="M90.3 545.7 L91.7 545.7 L95.4 545.7 L99.1 543.2 L101.5 542 L104 540.8 L106.5 538.3 L108.3 535.8 L110.2 532.8 L112 529.1 L113.2 523.5 L114.5 517.4 L116.3 512.5 L118.2 508.8 L119.8 507.5 L121.2 502.6 L122.2 498.9 L123.1 495.2 L123.9 498.9 L124.9 503.8 L125.9 500.2 L127.1 501.4 L128.4 505.1 L129.6 502.6 L130.5 508.8 L131.7 513.7 L132.9 519.8 L134.2 526 L135.4 532.2 L136.6 535.8 L138.5 539.5 L140.9 542 L144 543.2 L148.3 545.7 L152 545.7 L160 545.7 L183.6 545.7" class="sol"/><path d="M89.8 464.6 H184.1 V546.3" class="box"/><path d="M89.8 464.6 V546.3 H184.1" class="axis"/><path d="M89.8 546.3h-3.2M89.8 543.03h-2.2M89.8 539.76h-2.2M89.8 536.5h-2.2M89.8 533.23h-2.2M89.8 529.96h-3.2M89.8 526.69h-2.2M89.8 523.42h-2.2M89.8 520.16h-2.2M89.8 516.89h-2.2M89.8 513.62h-3.2M89.8 510.35h-2.2M89.8 507.08h-2.2M89.8 503.82h-2.2M89.8 500.55h-2.2M89.8 497.28h-3.2M89.8 494.01h-2.2M89.8 490.74h-2.2M89.8 487.48h-2.2M89.8 484.21h-2.2M89.8 480.94h-3.2M89.8 477.67h-2.2M89.8 474.4h-2.2M89.8 471.14h-2.2M89.8 467.87h-2.2M89.8 464.6h-3.2M89.8 546.3v3M96.9 546.3v2M101.05 546.3v2M103.99 546.3v2M106.28 546.3v2M108.14 546.3v2M109.72 546.3v2M111.09 546.3v2M112.3 546.3v2M113.38 546.3v3M120.47 546.3v2M124.62 546.3v2M127.57 546.3v2M129.85 546.3v2M131.72 546.3v2M133.3 546.3v2M134.67 546.3v2M135.87 546.3v2M136.95 546.3v3M144.05 546.3v2M148.2 546.3v2M151.14 546.3v2M153.43 546.3v2M155.29 546.3v2M156.87 546.3v2M158.24 546.3v2M159.45 546.3v2M160.52 546.3v3M167.62 546.3v2M171.77 546.3v2M174.72 546.3v2M177 546.3v2M178.87 546.3v2M180.45 546.3v2M181.82 546.3v2M183.02 546.3v2M184.1 546.3v3" class="tick"/><text transform="translate(83.6 546.3) rotate(-90)" class="yl" textLength="3.8" lengthAdjust="spacingAndGlyphs">0</text><text transform="translate(83.6 529.96) rotate(-90)" class="yl" textLength="7.6" lengthAdjust="spacingAndGlyphs">20</text><text transform="translate(83.6 513.62) rotate(-90)" class="yl" textLength="7.6" lengthAdjust="spacingAndGlyphs">40</text><text transform="translate(83.6 497.28) rotate(-90)" class="yl" textLength="7.6" lengthAdjust="spacingAndGlyphs">60</text><text transform="translate(83.6 480.94) rotate(-90)" class="yl" textLength="7.6" lengthAdjust="spacingAndGlyphs">80</text><text transform="translate(83.6 464.6) rotate(-90)" class="yl" textLength="11.4" lengthAdjust="spacingAndGlyphs">100</text><text transform="translate(74.8 506.95) rotate(-90)" class="cnt">Counts</text><text x="84.9" y="558.7" class="xl" textLength="7" lengthAdjust="spacingAndGlyphs">10</text><text x="92.3" y="554.5" class="sup" textLength="3.1" lengthAdjust="spacingAndGlyphs">0</text><text x="108.47" y="558.7" class="xl" textLength="7" lengthAdjust="spacingAndGlyphs">10</text><text x="115.88" y="554.5" class="sup" textLength="3.1" lengthAdjust="spacingAndGlyphs">1</text><text x="132.05" y="558.7" class="xl" textLength="7" lengthAdjust="spacingAndGlyphs">10</text><text x="139.45" y="554.5" class="sup" textLength="3.1" lengthAdjust="spacingAndGlyphs">2</text><text x="155.62" y="558.7" class="xl" textLength="7" lengthAdjust="spacingAndGlyphs">10</text><text x="163.02" y="554.5" class="sup" textLength="3.1" lengthAdjust="spacingAndGlyphs">3</text><text x="179.2" y="558.7" class="xl" textLength="7" lengthAdjust="spacingAndGlyphs">10</text><text x="186.6" y="554.5" class="sup" textLength="3.1" lengthAdjust="spacingAndGlyphs">4</text><text x="135.95" y="565.3" class="xt">FL2-H</text></g>
<g><path d="M234.4 531.4 L236.5 507.2 L238.1 496.7 L239.5 484 L240.5 475.7 L241.8 480 L243.4 489.4 L246 512.5 L249.1 528.2 L252.3 537.6 L256.5 542.9 L260.7 545.9 L280 545.9 L326.6 545.9" class="dash"/><path d="M233.5 531 L235.5 512.5 L237.1 499.9 L238.6 486.2 L239.8 474 L240.7 467.3 L242.3 475.7 L243.9 491.5 L245.5 507.2 L247 525 L248.6 538.7 L251.2 542.9 L256.5 545.9 L270 545.9 L326.6 545.9" class="sol"/><line x1="233.5" y1="470.5" x2="233.5" y2="534" stroke="#000" stroke-width="1.6"/><path d="M232.6 464.7 H327.1 V546.5" class="box"/><path d="M232.6 464.7 V546.5 H327.1" class="axis"/><path d="M232.6 546.5h-3.2M232.6 544.16h-2.2M232.6 541.83h-2.2M232.6 539.49h-2.2M232.6 537.15h-2.2M232.6 534.81h-3.2M232.6 532.48h-2.2M232.6 530.14h-2.2M232.6 527.8h-2.2M232.6 525.47h-2.2M232.6 523.13h-3.2M232.6 520.79h-2.2M232.6 518.45h-2.2M232.6 516.12h-2.2M232.6 513.78h-2.2M232.6 511.44h-3.2M232.6 509.11h-2.2M232.6 506.77h-2.2M232.6 504.43h-2.2M232.6 502.09h-2.2M232.6 499.76h-3.2M232.6 497.42h-2.2M232.6 495.08h-2.2M232.6 492.75h-2.2M232.6 490.41h-2.2M232.6 488.07h-3.2M232.6 485.73h-2.2M232.6 483.4h-2.2M232.6 481.06h-2.2M232.6 478.72h-2.2M232.6 476.39h-3.2M232.6 474.05h-2.2M232.6 471.71h-2.2M232.6 469.37h-2.2M232.6 467.04h-2.2M232.6 464.7h-3.2M232.6 546.5v3M239.71 546.5v2M243.87 546.5v2M246.82 546.5v2M249.11 546.5v2M250.98 546.5v2M252.57 546.5v2M253.94 546.5v2M255.14 546.5v2M256.23 546.5v3M263.34 546.5v2M267.5 546.5v2M270.45 546.5v2M272.74 546.5v2M274.61 546.5v2M276.19 546.5v2M277.56 546.5v2M278.77 546.5v2M279.85 546.5v3M286.96 546.5v2M291.12 546.5v2M294.07 546.5v2M296.36 546.5v2M298.23 546.5v2M299.82 546.5v2M301.19 546.5v2M302.39 546.5v2M303.48 546.5v3M310.59 546.5v2M314.75 546.5v2M317.7 546.5v2M319.99 546.5v2M321.86 546.5v2M323.44 546.5v2M324.81 546.5v2M326.02 546.5v2M327.1 546.5v3" class="tick"/><text transform="translate(226.4 546.5) rotate(-90)" class="yl" textLength="3.8" lengthAdjust="spacingAndGlyphs">0</text><text transform="translate(226.4 464.7) rotate(-90)" class="yl" textLength="11.4" lengthAdjust="spacingAndGlyphs">140</text><text transform="translate(217.6 507.1) rotate(-90)" class="cnt">Counts</text><text x="227.7" y="558.9" class="xl" textLength="7" lengthAdjust="spacingAndGlyphs">10</text><text x="235.1" y="554.7" class="sup" textLength="3.1" lengthAdjust="spacingAndGlyphs">0</text><text x="251.33" y="558.9" class="xl" textLength="7" lengthAdjust="spacingAndGlyphs">10</text><text x="258.73" y="554.7" class="sup" textLength="3.1" lengthAdjust="spacingAndGlyphs">1</text><text x="274.95" y="558.9" class="xl" textLength="7" lengthAdjust="spacingAndGlyphs">10</text><text x="282.35" y="554.7" class="sup" textLength="3.1" lengthAdjust="spacingAndGlyphs">2</text><text x="298.58" y="558.9" class="xl" textLength="7" lengthAdjust="spacingAndGlyphs">10</text><text x="305.98" y="554.7" class="sup" textLength="3.1" lengthAdjust="spacingAndGlyphs">3</text><text x="322.2" y="558.9" class="xl" textLength="7" lengthAdjust="spacingAndGlyphs">10</text><text x="329.6" y="554.7" class="sup" textLength="3.1" lengthAdjust="spacingAndGlyphs">4</text><text x="278.85" y="565.5" class="xt">FL1-H</text></g>
<g><path d="M376.2 530 L376.7 526 L377.9 517.4 L379.2 508.8 L380.1 500.2 L381 491.5 L381.9 485.4 L382.8 476.8 L383.5 469.4 L384.7 466.9 L385.8 467 L386.8 469.4 L387.5 474.3 L388.4 481.7 L389 491.5 L390 500.2 L390.8 508.8 L391.7 516.2 L392.7 523.5 L393.9 530.9 L395.8 537.1 L398.2 542 L400.7 543.8 L420 546 L470.1 546" class="dash"/><path d="M376.2 546 L379.8 543.8 L382.8 542 L384.7 539.5 L385.9 534.6 L387.2 528.5 L388.4 522.3 L389.6 514.9 L390.5 508.8 L391.5 504.5 L392.7 502.6 L393.7 497.7 L394.5 490.3 L395.2 484.2 L396.1 479.2 L397 474.9 L397.6 480.5 L398.2 484.2 L398.8 480.5 L399.8 484.2 L401.1 489.1 L401.9 498.9 L402.8 507.5 L403.8 514.9 L405 523.5 L406.2 530.9 L408.1 535.8 L409.9 539.5 L412.4 543.2 L416.1 546 L430 546 L470.1 546" class="sol"/><line x1="376.5" y1="505" x2="376.5" y2="530" stroke="#000" stroke-width="1.3"/><path d="M375.7 465.4 H470.6 V546.6" class="box"/><path d="M375.7 465.4 V546.6 H470.6" class="axis"/><path d="M375.7 546.6h-3.2M375.7 543.35h-2.2M375.7 540.1h-2.2M375.7 536.86h-2.2M375.7 533.61h-2.2M375.7 530.36h-3.2M375.7 527.11h-2.2M375.7 523.86h-2.2M375.7 520.62h-2.2M375.7 517.37h-2.2M375.7 514.12h-3.2M375.7 510.87h-2.2M375.7 507.62h-2.2M375.7 504.38h-2.2M375.7 501.13h-2.2M375.7 497.88h-3.2M375.7 494.63h-2.2M375.7 491.38h-2.2M375.7 488.14h-2.2M375.7 484.89h-2.2M375.7 481.64h-3.2M375.7 478.39h-2.2M375.7 475.14h-2.2M375.7 471.9h-2.2M375.7 468.65h-2.2M375.7 465.4h-3.2M375.7 546.6v3M382.84 546.6v2M387.02 546.6v2M389.98 546.6v2M392.28 546.6v2M394.16 546.6v2M395.75 546.6v2M397.13 546.6v2M398.34 546.6v2M399.43 546.6v3M406.57 546.6v2M410.74 546.6v2M413.71 546.6v2M416.01 546.6v2M417.89 546.6v2M419.47 546.6v2M420.85 546.6v2M422.06 546.6v2M423.15 546.6v3M430.29 546.6v2M434.47 546.6v2M437.43 546.6v2M439.73 546.6v2M441.61 546.6v2M443.2 546.6v2M444.58 546.6v2M445.79 546.6v2M446.88 546.6v3M454.02 546.6v2M458.19 546.6v2M461.16 546.6v2M463.46 546.6v2M465.34 546.6v2M466.92 546.6v2M468.3 546.6v2M469.51 546.6v2M470.6 546.6v3" class="tick"/><text transform="translate(369.5 546.6) rotate(-90)" class="yl" textLength="3.8" lengthAdjust="spacingAndGlyphs">0</text><text transform="translate(369.5 530.36) rotate(-90)" class="yl" textLength="7.6" lengthAdjust="spacingAndGlyphs">20</text><text transform="translate(369.5 514.12) rotate(-90)" class="yl" textLength="7.6" lengthAdjust="spacingAndGlyphs">40</text><text transform="translate(369.5 497.88) rotate(-90)" class="yl" textLength="7.6" lengthAdjust="spacingAndGlyphs">60</text><text transform="translate(369.5 481.64) rotate(-90)" class="yl" textLength="7.6" lengthAdjust="spacingAndGlyphs">80</text><text transform="translate(369.5 465.4) rotate(-90)" class="yl" textLength="11.4" lengthAdjust="spacingAndGlyphs">100</text><text transform="translate(360.7 507.5) rotate(-90)" class="cnt">Counts</text><text x="370.8" y="559" class="xl" textLength="7" lengthAdjust="spacingAndGlyphs">10</text><text x="378.2" y="554.8" class="sup" textLength="3.1" lengthAdjust="spacingAndGlyphs">0</text><text x="394.53" y="559" class="xl" textLength="7" lengthAdjust="spacingAndGlyphs">10</text><text x="401.93" y="554.8" class="sup" textLength="3.1" lengthAdjust="spacingAndGlyphs">1</text><text x="418.25" y="559" class="xl" textLength="7" lengthAdjust="spacingAndGlyphs">10</text><text x="425.65" y="554.8" class="sup" textLength="3.1" lengthAdjust="spacingAndGlyphs">2</text><text x="441.98" y="559" class="xl" textLength="7" lengthAdjust="spacingAndGlyphs">10</text><text x="449.38" y="554.8" class="sup" textLength="3.1" lengthAdjust="spacingAndGlyphs">3</text><text x="465.7" y="559" class="xl" textLength="7" lengthAdjust="spacingAndGlyphs">10</text><text x="473.1" y="554.8" class="sup" textLength="3.1" lengthAdjust="spacingAndGlyphs">4</text><text x="422.15" y="565.6" class="xt">FL1-H</text></g>
<g><path d="M89.5 672 L90.5 655 L91.3 634 L91.8 610 L92 595 L98 595 L98.1 606.8 L99.2 619.4 L100.7 642.5 L101.8 658.2 L103.9 665.5 L107 671.8 L111.2 674.9 L140 674.9 L160 674.9 L181.5 674.9" class="dash"/><path d="M89.3 674.9 L110 674.9 L122.5 674.9 L127.4 673.2 L130.5 670.8 L132.9 668.9 L134.8 665.8 L136.6 662.8 L138.5 662.2 L139.7 658.5 L141.5 654.8 L142.8 648.6 L143.6 641.2 L144.6 635.1 L145.2 631.4 L146.5 628.9 L147.7 624 L148.9 616.6 L150.2 609.2 L151.4 604.3 L152.2 606.8 L153 616.6 L153.8 622.8 L155.1 628.9 L156.3 633.8 L157.5 641.2 L158.8 648.6 L160 656 L161.2 663.4 L163.1 670.8 L165.5 672.6 L169.2 674.9 L171.7 674.9 L181.5 674.9" class="sol"/><path d="M88.8 594.3 H182 V675.5" class="box"/><path d="M88.8 594.3 V675.5 H182" class="axis"/><path d="M88.8 675.5h-3.2M88.8 672.25h-2.2M88.8 669h-2.2M88.8 665.76h-2.2M88.8 662.51h-2.2M88.8 659.26h-3.2M88.8 656.01h-2.2M88.8 652.76h-2.2M88.8 649.52h-2.2M88.8 646.27h-2.2M88.8 643.02h-3.2M88.8 639.77h-2.2M88.8 636.52h-2.2M88.8 633.28h-2.2M88.8 630.03h-2.2M88.8 626.78h-3.2M88.8 623.53h-2.2M88.8 620.28h-2.2M88.8 617.04h-2.2M88.8 613.79h-2.2M88.8 610.54h-3.2M88.8 607.29h-2.2M88.8 604.04h-2.2M88.8 600.8h-2.2M88.8 597.55h-2.2M88.8 594.3h-3.2M88.8 675.5v3M95.81 675.5v2M99.92 675.5v2M102.83 675.5v2M105.09 675.5v2M106.93 675.5v2M108.49 675.5v2M109.84 675.5v2M111.03 675.5v2M112.1 675.5v3M119.11 675.5v2M123.22 675.5v2M126.13 675.5v2M128.39 675.5v2M130.23 675.5v2M131.79 675.5v2M133.14 675.5v2M134.33 675.5v2M135.4 675.5v3M142.41 675.5v2M146.52 675.5v2M149.43 675.5v2M151.69 675.5v2M153.53 675.5v2M155.09 675.5v2M156.44 675.5v2M157.63 675.5v2M158.7 675.5v3M165.71 675.5v2M169.82 675.5v2M172.73 675.5v2M174.99 675.5v2M176.83 675.5v2M178.39 675.5v2M179.74 675.5v2M180.93 675.5v2M182 675.5v3" class="tick"/><text transform="translate(82.6 675.5) rotate(-90)" class="yl" textLength="3.8" lengthAdjust="spacingAndGlyphs">0</text><text transform="translate(82.6 659.26) rotate(-90)" class="yl" textLength="7.6" lengthAdjust="spacingAndGlyphs">20</text><text transform="translate(82.6 643.02) rotate(-90)" class="yl" textLength="7.6" lengthAdjust="spacingAndGlyphs">40</text><text transform="translate(82.6 626.78) rotate(-90)" class="yl" textLength="7.6" lengthAdjust="spacingAndGlyphs">60</text><text transform="translate(82.6 610.54) rotate(-90)" class="yl" textLength="7.6" lengthAdjust="spacingAndGlyphs">80</text><text transform="translate(82.6 594.3) rotate(-90)" class="yl" textLength="11.4" lengthAdjust="spacingAndGlyphs">100</text><text transform="translate(73.8 636.4) rotate(-90)" class="cnt">Counts</text><text x="83.9" y="687.9" class="xl" textLength="7" lengthAdjust="spacingAndGlyphs">10</text><text x="91.3" y="683.7" class="sup" textLength="3.1" lengthAdjust="spacingAndGlyphs">0</text><text x="107.2" y="687.9" class="xl" textLength="7" lengthAdjust="spacingAndGlyphs">10</text><text x="114.6" y="683.7" class="sup" textLength="3.1" lengthAdjust="spacingAndGlyphs">1</text><text x="130.5" y="687.9" class="xl" textLength="7" lengthAdjust="spacingAndGlyphs">10</text><text x="137.9" y="683.7" class="sup" textLength="3.1" lengthAdjust="spacingAndGlyphs">2</text><text x="153.8" y="687.9" class="xl" textLength="7" lengthAdjust="spacingAndGlyphs">10</text><text x="161.2" y="683.7" class="sup" textLength="3.1" lengthAdjust="spacingAndGlyphs">3</text><text x="177.1" y="687.9" class="xl" textLength="7" lengthAdjust="spacingAndGlyphs">10</text><text x="184.5" y="683.7" class="sup" textLength="3.1" lengthAdjust="spacingAndGlyphs">4</text><text x="134.4" y="694.5" class="xt">FL2-H</text></g>
<g><path d="M233 655 L234.1 642.7 L235.1 632.6 L235.9 622.4 L236.6 612.3 L237.3 600.1 L237.6 597.1 L238.5 596 L239.8 597 L240.7 602.1 L241.4 612.3 L242.2 622.4 L242.7 632.6 L243 642.7 L243.4 652.9 L244 661 L245 668.1 L246.8 672.6 L249.3 675.4 L270 675.4 L325.4 675.4" class="dash"/><path d="M232.6 663 L233.6 645.8 L234.6 635.6 L235.6 625.5 L236.6 616.3 L237.6 608.2 L238.6 601.1 L239.5 595.3 L240.8 595.3 L241.2 600.1 L242.2 610.3 L243 618.4 L243.7 630.5 L244.4 642.7 L245.4 654.9 L246.5 663 L247.8 669.1 L249.8 672.1 L253.4 673.6 L258.4 675.4 L280 675.4 L325.4 675.4" class="sol"/><line x1="232.7" y1="630.5" x2="232.7" y2="663" stroke="#000" stroke-width="1.6"/><path d="M232 594.6 H325.9 V676" class="box"/><path d="M232 594.6 V676 H325.9" class="axis"/><path d="M232 676h-3.2M232 673.67h-2.2M232 671.35h-2.2M232 669.02h-2.2M232 666.7h-2.2M232 664.37h-3.2M232 662.05h-2.2M232 659.72h-2.2M232 657.39h-2.2M232 655.07h-2.2M232 652.74h-3.2M232 650.42h-2.2M232 648.09h-2.2M232 645.77h-2.2M232 643.44h-2.2M232 641.11h-3.2M232 638.79h-2.2M232 636.46h-2.2M232 634.14h-2.2M232 631.81h-2.2M232 629.49h-3.2M232 627.16h-2.2M232 624.83h-2.2M232 622.51h-2.2M232 620.18h-2.2M232 617.86h-3.2M232 615.53h-2.2M232 613.21h-2.2M232 610.88h-2.2M232 608.55h-2.2M232 606.23h-3.2M232 603.9h-2.2M232 601.58h-2.2M232 599.25h-2.2M232 596.93h-2.2M232 594.6h-3.2M232 676v3M239.07 676v2M243.2 676v2M246.13 676v2M248.41 676v2M250.27 676v2M251.84 676v2M253.2 676v2M254.4 676v2M255.47 676v3M262.54 676v2M266.68 676v2M269.61 676v2M271.88 676v2M273.74 676v2M275.31 676v2M276.68 676v2M277.88 676v2M278.95 676v3M286.02 676v2M290.15 676v2M293.08 676v2M295.36 676v2M297.22 676v2M298.79 676v2M300.15 676v2M301.35 676v2M302.42 676v3M309.49 676v2M313.63 676v2M316.56 676v2M318.83 676v2M320.69 676v2M322.26 676v2M323.63 676v2M324.83 676v2M325.9 676v3" class="tick"/><text transform="translate(225.8 676) rotate(-90)" class="yl" textLength="3.8" lengthAdjust="spacingAndGlyphs">0</text><text transform="translate(225.8 594.6) rotate(-90)" class="yl" textLength="11.4" lengthAdjust="spacingAndGlyphs">140</text><text transform="translate(217 636.8) rotate(-90)" class="cnt">Counts</text><text x="227.1" y="688.4" class="xl" textLength="7" lengthAdjust="spacingAndGlyphs">10</text><text x="234.5" y="684.2" class="sup" textLength="3.1" lengthAdjust="spacingAndGlyphs">0</text><text x="250.57" y="688.4" class="xl" textLength="7" lengthAdjust="spacingAndGlyphs">10</text><text x="257.98" y="684.2" class="sup" textLength="3.1" lengthAdjust="spacingAndGlyphs">1</text><text x="274.05" y="688.4" class="xl" textLength="7" lengthAdjust="spacingAndGlyphs">10</text><text x="281.45" y="684.2" class="sup" textLength="3.1" lengthAdjust="spacingAndGlyphs">2</text><text x="297.52" y="688.4" class="xl" textLength="7" lengthAdjust="spacingAndGlyphs">10</text><text x="304.92" y="684.2" class="sup" textLength="3.1" lengthAdjust="spacingAndGlyphs">3</text><text x="321" y="688.4" class="xl" textLength="7" lengthAdjust="spacingAndGlyphs">10</text><text x="328.4" y="684.2" class="sup" textLength="3.1" lengthAdjust="spacingAndGlyphs">4</text><text x="277.95" y="695" class="xt">FL1-H</text></g>
<g><path d="M376.6 662 L377.3 656 L378.5 644.9 L379.4 633.8 L380.4 625.2 L381.4 616.6 L382.2 608 L383.1 600.6 L384.1 596.9 L386.5 597 L387.2 599.4 L387.5 608 L387.5 616.6 L387.8 626.5 L388.4 635.1 L389.2 643.7 L390.2 652.3 L391.2 659.7 L392.7 665.8 L395.2 670.8 L398.8 673.8 L420 676 L469.3 676" class="dash"/><path d="M376.7 676 L379.8 673.2 L382.2 669.5 L384.1 663.4 L385.3 653.5 L386.5 641.2 L387.8 630.2 L389 621.5 L390.2 615.4 L391.5 611.7 L392.7 606.8 L393.7 605.5 L394.9 609.2 L395.8 616.6 L397 625.2 L398.2 633.8 L399.5 642.5 L400.7 651.1 L401.9 659.7 L403.8 667.1 L406.2 670.8 L408.7 672.6 L412.4 674.5 L420 676 L469.3 676" class="sol"/><path d="M376.1 596 H469.8 V676.6" class="box"/><path d="M376.1 596 V676.6 H469.8" class="axis"/><path d="M376.1 676.6h-3.2M376.1 673.38h-2.2M376.1 670.15h-2.2M376.1 666.93h-2.2M376.1 663.7h-2.2M376.1 660.48h-3.2M376.1 657.26h-2.2M376.1 654.03h-2.2M376.1 650.81h-2.2M376.1 647.58h-2.2M376.1 644.36h-3.2M376.1 641.14h-2.2M376.1 637.91h-2.2M376.1 634.69h-2.2M376.1 631.46h-2.2M376.1 628.24h-3.2M376.1 625.02h-2.2M376.1 621.79h-2.2M376.1 618.57h-2.2M376.1 615.34h-2.2M376.1 612.12h-3.2M376.1 608.9h-2.2M376.1 605.67h-2.2M376.1 602.45h-2.2M376.1 599.22h-2.2M376.1 596h-3.2M376.1 676.6v3M383.15 676.6v2M387.28 676.6v2M390.2 676.6v2M392.47 676.6v2M394.33 676.6v2M395.9 676.6v2M397.25 676.6v2M398.45 676.6v2M399.53 676.6v3M406.58 676.6v2M410.7 676.6v2M413.63 676.6v2M415.9 676.6v2M417.75 676.6v2M419.32 676.6v2M420.68 676.6v2M421.88 676.6v2M422.95 676.6v3M430 676.6v2M434.13 676.6v2M437.05 676.6v2M439.32 676.6v2M441.18 676.6v2M442.75 676.6v2M444.1 676.6v2M445.3 676.6v2M446.38 676.6v3M453.43 676.6v2M457.55 676.6v2M460.48 676.6v2M462.75 676.6v2M464.6 676.6v2M466.17 676.6v2M467.53 676.6v2M468.73 676.6v2M469.8 676.6v3" class="tick"/><text transform="translate(369.9 676.6) rotate(-90)" class="yl" textLength="3.8" lengthAdjust="spacingAndGlyphs">0</text><text transform="translate(369.9 660.48) rotate(-90)" class="yl" textLength="7.6" lengthAdjust="spacingAndGlyphs">20</text><text transform="translate(369.9 644.36) rotate(-90)" class="yl" textLength="7.6" lengthAdjust="spacingAndGlyphs">40</text><text transform="translate(369.9 628.24) rotate(-90)" class="yl" textLength="7.6" lengthAdjust="spacingAndGlyphs">60</text><text transform="translate(369.9 612.12) rotate(-90)" class="yl" textLength="7.6" lengthAdjust="spacingAndGlyphs">80</text><text transform="translate(369.9 596) rotate(-90)" class="yl" textLength="11.4" lengthAdjust="spacingAndGlyphs">100</text><text transform="translate(361.1 637.8) rotate(-90)" class="cnt">Counts</text><text x="371.2" y="689" class="xl" textLength="7" lengthAdjust="spacingAndGlyphs">10</text><text x="378.6" y="684.8" class="sup" textLength="3.1" lengthAdjust="spacingAndGlyphs">0</text><text x="394.63" y="689" class="xl" textLength="7" lengthAdjust="spacingAndGlyphs">10</text><text x="402.03" y="684.8" class="sup" textLength="3.1" lengthAdjust="spacingAndGlyphs">1</text><text x="418.05" y="689" class="xl" textLength="7" lengthAdjust="spacingAndGlyphs">10</text><text x="425.45" y="684.8" class="sup" textLength="3.1" lengthAdjust="spacingAndGlyphs">2</text><text x="441.48" y="689" class="xl" textLength="7" lengthAdjust="spacingAndGlyphs">10</text><text x="448.88" y="684.8" class="sup" textLength="3.1" lengthAdjust="spacingAndGlyphs">3</text><text x="464.9" y="689" class="xl" textLength="7" lengthAdjust="spacingAndGlyphs">10</text><text x="472.3" y="684.8" class="sup" textLength="3.1" lengthAdjust="spacingAndGlyphs">4</text><text x="421.95" y="695.6" class="xt">FL1-H</text></g>
<g><path d="M87.5 800 L88.7 782.1 L89.7 769.8 L90.2 759.9 L90.9 747.6 L91.8 739 L92.4 729.2 L93 726.2 L105.2 726.2 L105.3 729.2 L105.7 739 L106.2 747.6 L106.9 757.5 L107.4 769.8 L107.8 779.6 L108.4 788.2 L109 795.6 L110.8 800.5 L114.5 803 L119.5 803.6 L136.5 802.8 L140.8 805 L180.5 806.4" class="dash"/><path d="M87.3 806.4 L88.7 806.4 L98.5 806.4 L101 803.6 L104.7 802.4 L107.2 801.2 L109 796.8 L110.2 794.4 L111.5 793.8 L112.7 791.3 L113.9 787 L114.5 783.3 L116 778.4 L117 773.5 L117.6 771.6 L118.8 777.2 L120.1 774.7 L121.3 770.4 L122.5 768.5 L123.8 766.1 L124.6 762.4 L125.9 758.1 L126.8 762.4 L127.8 768.5 L129.1 769.8 L130.5 772.2 L131.8 774.7 L133.2 779.7 L135.4 787.2 L136.5 791.5 L137.5 784 L138.6 791.5 L139.7 796.9 L141.3 799.1 L143.5 801.8 L145.6 802.8 L147.8 802.3 L149.4 800.7 L151 803.9 L153.7 804.4 L155.8 803.9 L158 803.4 L160.1 802.3 L162.3 804.4 L164.4 806.4 L180.5 806.4" class="sol"/><path d="M86.8 725.5 H181 V807" class="box"/><path d="M86.8 725.5 V807 H181" class="axis"/><path d="M86.8 807h-3.2M86.8 802.92h-2.2M86.8 798.85h-2.2M86.8 794.77h-2.2M86.8 790.7h-2.2M86.8 786.62h-3.2M86.8 782.55h-2.2M86.8 778.48h-2.2M86.8 774.4h-2.2M86.8 770.33h-2.2M86.8 766.25h-3.2M86.8 762.17h-2.2M86.8 758.1h-2.2M86.8 754.02h-2.2M86.8 749.95h-2.2M86.8 745.88h-3.2M86.8 741.8h-2.2M86.8 737.73h-2.2M86.8 733.65h-2.2M86.8 729.58h-2.2M86.8 725.5h-3.2M86.8 807v3M93.89 807v2M98.04 807v2M100.98 807v2M103.26 807v2M105.13 807v2M106.7 807v2M108.07 807v2M109.27 807v2M110.35 807v3M117.44 807v2M121.59 807v2M124.53 807v2M126.81 807v2M128.68 807v2M130.25 807v2M131.62 807v2M132.82 807v2M133.9 807v3M140.99 807v2M145.14 807v2M148.08 807v2M150.36 807v2M152.23 807v2M153.8 807v2M155.17 807v2M156.37 807v2M157.45 807v3M164.54 807v2M168.69 807v2M171.63 807v2M173.91 807v2M175.78 807v2M177.35 807v2M178.72 807v2M179.92 807v2M181 807v3" class="tick"/><text transform="translate(80.6 807) rotate(-90)" class="yl" textLength="3.8" lengthAdjust="spacingAndGlyphs">0</text><text transform="translate(80.6 786.62) rotate(-90)" class="yl" textLength="7.6" lengthAdjust="spacingAndGlyphs">10</text><text transform="translate(80.6 766.25) rotate(-90)" class="yl" textLength="7.6" lengthAdjust="spacingAndGlyphs">20</text><text transform="translate(80.6 745.88) rotate(-90)" class="yl" textLength="7.6" lengthAdjust="spacingAndGlyphs">30</text><text transform="translate(80.6 725.5) rotate(-90)" class="yl" textLength="7.6" lengthAdjust="spacingAndGlyphs">40</text><text transform="translate(71.8 767.75) rotate(-90)" class="cnt">Counts</text><text x="81.9" y="819.4" class="xl" textLength="7" lengthAdjust="spacingAndGlyphs">10</text><text x="89.3" y="815.2" class="sup" textLength="3.1" lengthAdjust="spacingAndGlyphs">0</text><text x="105.45" y="819.4" class="xl" textLength="7" lengthAdjust="spacingAndGlyphs">10</text><text x="112.85" y="815.2" class="sup" textLength="3.1" lengthAdjust="spacingAndGlyphs">1</text><text x="129" y="819.4" class="xl" textLength="7" lengthAdjust="spacingAndGlyphs">10</text><text x="136.4" y="815.2" class="sup" textLength="3.1" lengthAdjust="spacingAndGlyphs">2</text><text x="152.55" y="819.4" class="xl" textLength="7" lengthAdjust="spacingAndGlyphs">10</text><text x="159.95" y="815.2" class="sup" textLength="3.1" lengthAdjust="spacingAndGlyphs">3</text><text x="176.1" y="819.4" class="xl" textLength="7" lengthAdjust="spacingAndGlyphs">10</text><text x="183.5" y="815.2" class="sup" textLength="3.1" lengthAdjust="spacingAndGlyphs">4</text><text x="132.9" y="826" class="xt">FL2-H</text></g>
<g><path d="M231.5 804 L232.6 800.1 L233.6 792 L234.6 783.9 L235.9 773.7 L236.9 763.6 L237.6 753.4 L238.7 743.3 L239.4 735.2 L240.4 728.6 L241.7 726.3 L243 726.5 L243.7 728.1 L244.2 733.1 L244.7 743.3 L245.5 753.4 L246.1 761.5 L246.8 769.7 L247.8 775.7 L248.5 781.8 L249.5 787.9 L250.5 794 L251.8 800.1 L253.9 804.1 L270 806.4 L323.2 806.4" class="dash"/><path d="M230 806.4 L231.1 806.4 L234.1 803.1 L236.1 798 L237.1 792 L238.2 783.9 L239.2 773.7 L240.2 765.6 L241.2 760.5 L242.2 757.5 L243.2 755.5 L244.2 752.4 L245.3 749.4 L245.8 748.4 L246.8 751.4 L247.8 753.4 L248.8 756.5 L249.8 760.5 L250.8 765.6 L251.8 768.6 L252.9 773.7 L253.6 779.8 L254.6 785.9 L255.6 791 L256.9 796 L258.4 800.1 L260.5 803.1 L263.5 806.4 L280 806.4 L323.2 806.4" class="sol"/><path d="M229.5 725.8 H323.7 V807" class="box"/><path d="M229.5 725.8 V807 H323.7" class="axis"/><path d="M229.5 807h-3.2M229.5 803.75h-2.2M229.5 800.5h-2.2M229.5 797.26h-2.2M229.5 794.01h-2.2M229.5 790.76h-3.2M229.5 787.51h-2.2M229.5 784.26h-2.2M229.5 781.02h-2.2M229.5 777.77h-2.2M229.5 774.52h-3.2M229.5 771.27h-2.2M229.5 768.02h-2.2M229.5 764.78h-2.2M229.5 761.53h-2.2M229.5 758.28h-3.2M229.5 755.03h-2.2M229.5 751.78h-2.2M229.5 748.54h-2.2M229.5 745.29h-2.2M229.5 742.04h-3.2M229.5 738.79h-2.2M229.5 735.54h-2.2M229.5 732.3h-2.2M229.5 729.05h-2.2M229.5 725.8h-3.2M229.5 807v3M236.59 807v2M240.74 807v2M243.68 807v2M245.96 807v2M247.83 807v2M249.4 807v2M250.77 807v2M251.97 807v2M253.05 807v3M260.14 807v2M264.29 807v2M267.23 807v2M269.51 807v2M271.38 807v2M272.95 807v2M274.32 807v2M275.52 807v2M276.6 807v3M283.69 807v2M287.84 807v2M290.78 807v2M293.06 807v2M294.93 807v2M296.5 807v2M297.87 807v2M299.07 807v2M300.15 807v3M307.24 807v2M311.39 807v2M314.33 807v2M316.61 807v2M318.48 807v2M320.05 807v2M321.42 807v2M322.62 807v2M323.7 807v3" class="tick"/><text transform="translate(223.3 807) rotate(-90)" class="yl" textLength="3.8" lengthAdjust="spacingAndGlyphs">0</text><text transform="translate(223.3 790.76) rotate(-90)" class="yl" textLength="7.6" lengthAdjust="spacingAndGlyphs">20</text><text transform="translate(223.3 774.52) rotate(-90)" class="yl" textLength="7.6" lengthAdjust="spacingAndGlyphs">40</text><text transform="translate(223.3 758.28) rotate(-90)" class="yl" textLength="7.6" lengthAdjust="spacingAndGlyphs">60</text><text transform="translate(223.3 742.04) rotate(-90)" class="yl" textLength="7.6" lengthAdjust="spacingAndGlyphs">80</text><text transform="translate(223.3 725.8) rotate(-90)" class="yl" textLength="11.4" lengthAdjust="spacingAndGlyphs">100</text><text transform="translate(214.5 767.9) rotate(-90)" class="cnt">Counts</text><text x="224.6" y="819.4" class="xl" textLength="7" lengthAdjust="spacingAndGlyphs">10</text><text x="232" y="815.2" class="sup" textLength="3.1" lengthAdjust="spacingAndGlyphs">0</text><text x="248.15" y="819.4" class="xl" textLength="7" lengthAdjust="spacingAndGlyphs">10</text><text x="255.55" y="815.2" class="sup" textLength="3.1" lengthAdjust="spacingAndGlyphs">1</text><text x="271.7" y="819.4" class="xl" textLength="7" lengthAdjust="spacingAndGlyphs">10</text><text x="279.1" y="815.2" class="sup" textLength="3.1" lengthAdjust="spacingAndGlyphs">2</text><text x="295.25" y="819.4" class="xl" textLength="7" lengthAdjust="spacingAndGlyphs">10</text><text x="302.65" y="815.2" class="sup" textLength="3.1" lengthAdjust="spacingAndGlyphs">3</text><text x="318.8" y="819.4" class="xl" textLength="7" lengthAdjust="spacingAndGlyphs">10</text><text x="326.2" y="815.2" class="sup" textLength="3.1" lengthAdjust="spacingAndGlyphs">4</text><text x="275.6" y="826" class="xt">FL1-H</text></g>
<g><path d="M374 803 L374.7 799.3 L375.9 791.9 L377.2 782.1 L378.1 772.2 L379 759.9 L379.6 747.6 L380.2 735.3 L380.8 727.9 L381.5 727.1 L391.8 727.1 L392.2 730.4 L392.5 741.5 L392.9 753.8 L393.4 762.4 L394.1 772.2 L395 779.6 L395.6 788.2 L396.2 796.8 L397.5 800.5 L400.5 803 L415 804 L435 804.5 L440 806.9 L467.3 806.9" class="dash"/><path d="M374 806.9 L374.7 806.9 L380.8 805.5 L382.1 803.6 L383.3 806.9 L387 804.2 L389.5 801.8 L391.9 798.1 L393.8 796.8 L395.6 793.2 L396.8 787 L398.1 779.6 L399.6 774.7 L400.5 771 L401.8 767.3 L403 768.5 L404.2 763.6 L405.5 762.4 L406.7 764.8 L407.9 767.3 L409.2 766.1 L410.4 764.8 L411.4 760.5 L412.2 767.3 L413.1 772.2 L414.1 777.2 L415.3 780.8 L416.5 784.5 L417.8 788.2 L419 791.9 L420.2 798.1 L421.2 801.8 L422.1 799.3 L423.3 804.2 L425.2 803.6 L427.6 803 L430.1 804.2 L432.5 805.5 L440 806.9 L467.3 806.9" class="sol"/><path d="M373.5 726.4 H467.8 V807.5" class="box"/><path d="M373.5 726.4 V807.5 H467.8" class="axis"/><path d="M373.5 807.5h-3.2M373.5 803.45h-2.2M373.5 799.39h-2.2M373.5 795.34h-2.2M373.5 791.28h-2.2M373.5 787.23h-3.2M373.5 783.17h-2.2M373.5 779.12h-2.2M373.5 775.06h-2.2M373.5 771h-2.2M373.5 766.95h-3.2M373.5 762.89h-2.2M373.5 758.84h-2.2M373.5 754.78h-2.2M373.5 750.73h-2.2M373.5 746.67h-3.2M373.5 742.62h-2.2M373.5 738.56h-2.2M373.5 734.51h-2.2M373.5 730.45h-2.2M373.5 726.4h-3.2M373.5 807.5v3M380.6 807.5v2M384.75 807.5v2M387.69 807.5v2M389.98 807.5v2M391.84 807.5v2M393.42 807.5v2M394.79 807.5v2M396 807.5v2M397.07 807.5v3M404.17 807.5v2M408.32 807.5v2M411.27 807.5v2M413.55 807.5v2M415.42 807.5v2M417 807.5v2M418.37 807.5v2M419.57 807.5v2M420.65 807.5v3M427.75 807.5v2M431.9 807.5v2M434.84 807.5v2M437.13 807.5v2M438.99 807.5v2M440.57 807.5v2M441.94 807.5v2M443.15 807.5v2M444.23 807.5v3M451.32 807.5v2M455.47 807.5v2M458.42 807.5v2M460.7 807.5v2M462.57 807.5v2M464.15 807.5v2M465.52 807.5v2M466.72 807.5v2M467.8 807.5v3" class="tick"/><text transform="translate(367.3 807.5) rotate(-90)" class="yl" textLength="3.8" lengthAdjust="spacingAndGlyphs">0</text><text transform="translate(367.3 787.23) rotate(-90)" class="yl" textLength="7.6" lengthAdjust="spacingAndGlyphs">10</text><text transform="translate(367.3 766.95) rotate(-90)" class="yl" textLength="7.6" lengthAdjust="spacingAndGlyphs">20</text><text transform="translate(367.3 746.67) rotate(-90)" class="yl" textLength="7.6" lengthAdjust="spacingAndGlyphs">30</text><text transform="translate(367.3 726.4) rotate(-90)" class="yl" textLength="7.6" lengthAdjust="spacingAndGlyphs">40</text><text transform="translate(358.5 768.45) rotate(-90)" class="cnt">Counts</text><text x="368.6" y="819.9" class="xl" textLength="7" lengthAdjust="spacingAndGlyphs">10</text><text x="376" y="815.7" class="sup" textLength="3.1" lengthAdjust="spacingAndGlyphs">0</text><text x="392.18" y="819.9" class="xl" textLength="7" lengthAdjust="spacingAndGlyphs">10</text><text x="399.57" y="815.7" class="sup" textLength="3.1" lengthAdjust="spacingAndGlyphs">1</text><text x="415.75" y="819.9" class="xl" textLength="7" lengthAdjust="spacingAndGlyphs">10</text><text x="423.15" y="815.7" class="sup" textLength="3.1" lengthAdjust="spacingAndGlyphs">2</text><text x="439.33" y="819.9" class="xl" textLength="7" lengthAdjust="spacingAndGlyphs">10</text><text x="446.73" y="815.7" class="sup" textLength="3.1" lengthAdjust="spacingAndGlyphs">3</text><text x="462.9" y="819.9" class="xl" textLength="7" lengthAdjust="spacingAndGlyphs">10</text><text x="470.3" y="815.7" class="sup" textLength="3.1" lengthAdjust="spacingAndGlyphs">4</text><text x="419.65" y="826.5" class="xt">FL1-H</text></g>
<text x="1.6" y="13.5" class="lab">A</text>
<text x="2.6" y="446.7" class="lab">B</text>
<text x="205.5" y="15.4" class="ttl">hGM (M) R&#945;, h&#946;<tspan class="sub" dy="4.6">c</tspan></text>
<text x="228.3" y="450.6" class="ttl">hGM/&#946;<tspan class="sub" dy="4.6">c</tspan><tspan dy="-4.6">, h&#946;</tspan><tspan class="sub" dy="4.6">c</tspan></text>
<text x="3.4" y="67.5" class="row">IL-3</text>
<text x="3.6" y="198.5" class="row">hGM-CSF</text>
<text x="3.2" y="327.4" class="row">G/M Diff</text>
<text x="2.2" y="500.8" class="row">IL-3</text>
<text x="1.3" y="632.3" class="row">hGM-CSF</text>
<text x="1" y="761.8" class="row">G/M Diff</text>
<text x="91" y="415.3" class="col">Sca-1</text>
<text x="239.3" y="415.3" class="col">Gr-1</text>
<text x="380.2" y="415.6" class="col">Mac-1</text>
<text x="93.8" y="850.5" class="col">Sca-1</text>
<text x="241.3" y="850.6" class="col">Gr-1</text>
<text x="382.2" y="850.6" class="col">Mac-1</text>
<text x="462.6" y="851.1" class="col">Day 60</text>
</svg></body></html>
